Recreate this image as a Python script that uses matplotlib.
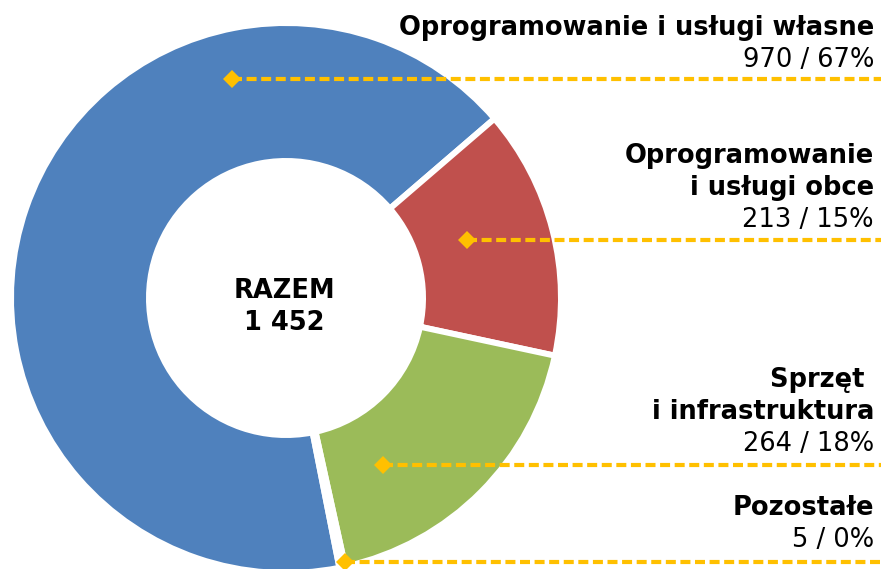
import matplotlib
matplotlib.use('Agg')
import matplotlib.pyplot as plt

# ---- data ----
categories = ['Oprogramowanie i usługi własne', 'Oprogramowanie\ni usługi obce',
              'Sprzęt \ni infrastruktura', 'Pozostałe']
values = [970, 213, 264, 5]
percents = ['67%', '15%', '18%', '0%']
total_title = 'RAZEM'
total_value = '1 452'

# ---- style / layout ----
colors = ['#4F81BD', '#C0504D', '#9BBB59', '#8064A2']
yellow = '#FFC000'
W, H = 881, 569
fig = plt.figure(figsize=(W / 100, H / 100), dpi=100)
ax = fig.add_axes([0, 0, 1, 1])


def Y(y):
    return H - y


cx, cy = 286, Y(298)
lw_pt = 4.3
lw_px = lw_pt * 100 / 72
R = 272 + lw_px / 2
width = 132 + lw_px

ax.pie(values, colors=colors, radius=R, center=(cx, cy), startangle=281.2,
       counterclock=False,
       wedgeprops=dict(width=width, edgecolor='white', linewidth=lw_pt))
ax.set_xlim(0, W)
ax.set_ylim(0, H)
ax.axis('off')

fs = 18.5

# centre text
ax.text(284, Y(298), total_title, ha='center', va='baseline', fontsize=fs,
        fontweight='bold', family='DejaVu Sans')
ax.text(284, Y(330), total_value, ha='center', va='baseline', fontsize=fs,
        fontweight='bold', family='DejaVu Sans')

# leader lines: anchor point (marker) and line y
anchors = [(232, 79), (467, 240), (383, 465), (345, 562)]
for (ax_x, ax_y) in anchors:
    ax.plot([ax_x, W + 5], [Y(ax_y), Y(ax_y)], color=yellow, lw=3,
            linestyle=(0, (2.4, 1.1)), solid_capstyle='butt', zorder=5,
            clip_on=False)
    ax.plot([ax_x], [Y(ax_y)], marker='D', color=yellow, markersize=9.5,
            markeredgewidth=0, zorder=6)

# labels (baselines of the first line)
label_base = [35, 163, 387, 515]
line_step = 32
xr = 874
for cat, v, p, yb in zip(categories, values, percents, label_base):
    lines = cat.split('\n')
    y = yb
    for ln in lines:
        ax.text(xr, Y(y), ln, ha='right', va='baseline', fontsize=fs,
                fontweight='bold', family='DejaVu Sans')
        y += line_step
    ax.text(xr, Y(y), f'{v} / {p}', ha='right', va='baseline', fontsize=fs,
            family='DejaVu Sans')

fig.savefig('out.png', dpi=100)
